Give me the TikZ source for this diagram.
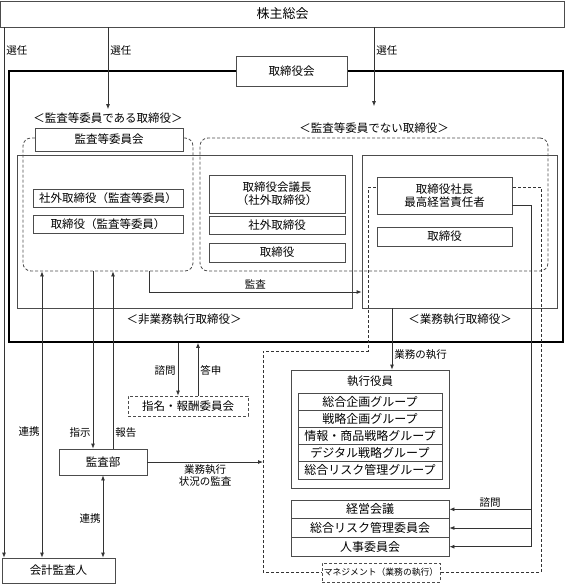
\documentclass[tikz,border=0pt]{standalone}
\usepackage{fontspec}
\setmainfont{Noto Sans CJK JP}
\usetikzlibrary{arrows.meta}

\begin{document}
\begin{tikzpicture}[x=1pt,y=-1pt,font=\fontsize{11.5}{13}\selectfont,
                main box/.style={draw=black!70,line width=0.8pt,fill=white,inner sep=0pt,align=center},
                dash box/.style={main box,dash pattern=on 3pt off 2pt},
                round box/.style={draw=black!70,line width=0.8pt,dash pattern=on 3pt off 2pt,rounded corners=8pt,inner sep=0pt},
                plain box/.style={draw=black!70,line width=0.8pt,inner sep=0pt},
                big frame/.style={draw=black,line width=1.5pt,inner sep=0pt},
                lab/.style={font=\fontsize{10.5}{12.5}\selectfont,inner sep=2pt,align=center},
                wire/.style={draw=black!80,line width=0.8pt},
                arr/.style={wire,-{Latex[length=5pt,width=4pt]}},
                both arr/.style={wire,{Latex[length=5pt,width=4pt]}-{Latex[length=5pt,width=4pt]}}]
                \useasboundingbox (0,0) rectangle (566,584);

                % frames
                \node[big frame,minimum width=554pt,minimum height=271pt] at (286, 206.5) (board) {};
                \node[plain box,minimum width=335pt,minimum height=153pt] at (184.5, 231.5) (nonexec) {};
                \node[plain box,minimum width=195pt,minimum height=153pt] at (459.5, 231.5) (exec) {};
                \node[round box,minimum width=170pt,minimum height=133pt] at (108, 204.5) (audit) {};
                \node[round box,minimum width=348pt,minimum height=133pt] at (374, 204.5) (nonaudit) {};
                \draw[wire,dash pattern=on 3pt off 2pt] (368,187) -- (541,187) -- (541,572) -- (263,572) -- (263,351) -- (368,351) -- cycle;

                % boxes
                \node[main box,minimum width=564pt,minimum height=26pt,font=\fontsize{13}{15}\selectfont] at (282.5, 14) (soukai) {株主総会};
                \node[main box,minimum width=111pt,minimum height=30pt] at (291.5, 71) (torikai) {取締役会};
                \node at (108, 118) (auditlbl) {＜監査等委員である取締役＞};
                \node at (374, 128) (nonauditlbl) {＜監査等委員でない取締役＞};
                \node at (184, 319) (nonexeclbl) {＜非業務執行取締役＞};
                \node at (460, 319) (execlbl) {＜業務執行取締役＞};
                \node[main box,minimum width=148pt,minimum height=23pt] at (109, 139.5) (iinkai) {監査等委員会};
                \node[main box,minimum width=150pt,minimum height=18pt] at (108, 198) (shagaiA) {社外取締役（監査等委員）};
                \node[main box,minimum width=150pt,minimum height=18pt] at (108, 224) (toriA) {取締役（監査等委員）};
                \node[main box,minimum width=136pt,minimum height=38pt] at (277, 194) (gicho) {取締役会議長\\（社外取締役）};
                \node[main box,minimum width=136pt,minimum height=18pt] at (277, 225) (shagaiB) {社外取締役};
                \node[main box,minimum width=136pt,minimum height=19pt] at (277, 252.5) (toriB) {取締役};
                \node[main box,minimum width=135pt,minimum height=37pt] at (444.5, 195.5) (shacho) {取締役社長\\最高経営責任者};
                \node[main box,minimum width=135pt,minimum height=19pt] at (444.5, 236.5) (toriC) {取締役};

                \node[main box,minimum width=158pt,minimum height=118pt] at (370, 429) (yakuin) {};
                \node at ([yshift=-12pt]yakuin.north) (yakuintitle) {執行役員};
                \foreach \name/\txt [count=\i from 0] in {gA/総合企画グループ,gB/戦略企画グループ,gC/情報・商品戦略グループ,gD/デジタル戦略グループ,gE/総合リスク管理グループ}
                    \node[main box,minimum width=144pt,minimum height=17.2pt,font=\fontsize{12}{14}\selectfont] at (370, 401.6+17.2*\i) (\name) {\txt};
                \node[main box,minimum width=158pt,minimum height=18.67pt,font=\fontsize{12}{14}\selectfont] at (370, 509.3) (keiei) {経営会議};
                \node[main box,minimum width=158pt,minimum height=18.67pt,font=\fontsize{12}{14}\selectfont] at (370, 528) (risk) {総合リスク管理委員会};
                \node[main box,minimum width=158pt,minimum height=18.67pt,font=\fontsize{12}{14}\selectfont] at (370, 546.7) (jinji) {人事委員会};

                \node[main box,minimum width=88pt,minimum height=26pt] at (103, 462) (kansabu) {監査部};
                \node[main box,minimum width=113pt,minimum height=25pt] at (58.5, 570.5) (kaikei) {会計監査人};
                \node[dash box,minimum width=120pt,minimum height=20pt] at (188, 406) (shimei) {指名・報酬委員会};
                \node[dash box,minimum width=118pt,minimum height=19pt,font=\fontsize{8.8}{10}\selectfont] at (381, 572.5) (mgmt) {マネジメント（業務の執行）};

                % connectors
                \coordinate (kleft) at (4, 0);
                \coordinate (renkei) at (42, 0);
                \coordinate (shiji) at (93, 0);
                \coordinate (houkoku) at (113, 0);
                \coordinate (shimonA) at (178, 0);
                \coordinate (toushin) at (198, 0);
                \coordinate (gyomu) at (392, 0);
                \coordinate (shimonB) at (531, 0);
                \coordinate (kansaturn) at (149, 292);
                \coordinate (mgmtleft) at (263, 462);

                \draw[arr] (soukai.south -| kleft) -- node[lab,right,pos=0.043] {選任} (kaikei.north -| kleft);
                \draw[arr] (soukai.south -| auditlbl) -- node[lab,right,pos=0.28] {選任} (auditlbl.north);
                \draw[arr] (soukai.south -| nonauditlbl) -- node[lab,right,pos=0.29] {選任} ([yshift=13pt]nonauditlbl.north);
                \draw[arr] (audit.south -| kansaturn) -- (kansaturn) -- node[lab,above] {監査} (exec.west |- kansaturn);
                \draw[both arr] (audit.south -| renkei) -- node[lab,left,pos=0.56] {連携} (kaikei.north -| renkei);
                \draw[arr] (audit.south -| shiji) -- node[lab,left,pos=0.91] {指示} (kansabu.north -| shiji);
                \draw[arr] (kansabu.north -| houkoku) -- node[lab,right,pos=0.09] {報告} (audit.south -| houkoku);
                \draw[both arr] (kansabu.south) -- node[lab,left,pos=0.52] {連携} (kaikei.north -| kansabu);
                \draw[arr] (board.south -| shimonA) -- node[lab,left,pos=0.52] {諮問} (shimei.north -| shimonA);
                \draw[arr] (shimei.north -| toushin) -- node[lab,right,pos=0.48] {答申} (board.south -| toushin);
                \draw[arr] (kansabu.east) -- node[lab,below] {業務執行\\状況の監査} (mgmtleft);
                \draw[arr] (exec.south -| gyomu) -- node[lab,right,pos=0.76] {業務の執行} (yakuin.north -| gyomu);
                \draw[wire] ([yshift=-9.5pt]shacho.east) -| (jinji.east -| shimonB);
                \draw[arr] (keiei.east -| shimonB) -- node[lab,above] {諮問} (keiei.east);
                \draw[arr] (risk.east -| shimonB) -- (risk.east);
                \draw[arr] (jinji.east -| shimonB) -- (jinji.east);

            \end{tikzpicture}
\end{document}
